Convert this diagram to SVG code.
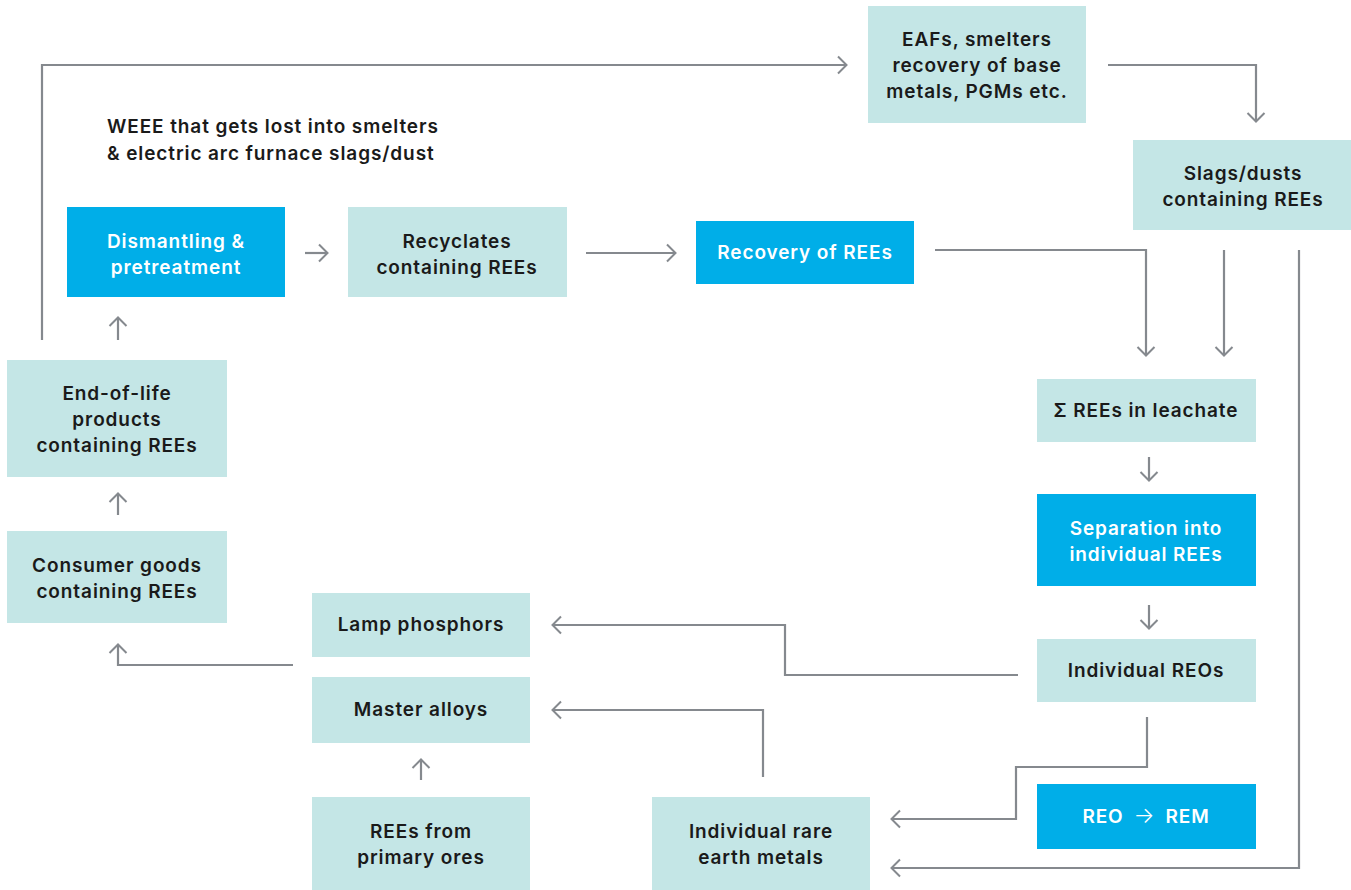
<svg xmlns="http://www.w3.org/2000/svg" width="1351" height="890" viewBox="0 0 1351 890">
<defs>
<marker id="ah" viewBox="0 0 20 20" refX="18" refY="10" markerWidth="20" markerHeight="20" markerUnits="userSpaceOnUse" orient="auto">
<path d="M10,1.5 L18.5,10 L10,18.5" fill="none" stroke="#85898e" stroke-width="2"/>
</marker>
<style>
.lt{fill:#c4e6e6}
.bl{fill:#00aee8}
.t{font-family:Inter,"Liberation Sans",sans-serif;font-weight:600;font-size:19px;letter-spacing:0.9px;fill:#1a1a1a;text-anchor:middle}
.w{fill:#ffffff}
.c{fill:none;stroke:#85898e;stroke-width:2.2}
.thin{font-weight:300;font-size:22px}
</style>
</defs>
<rect width="1351" height="890" fill="#ffffff"/>
<g id="connectors">
<polyline class="c" points="42,340 42,65 846,65" marker-end="url(#ah)"/>
<polyline class="c" points="1108,65 1256,65 1256,121" marker-end="url(#ah)"/>
<line class="c" x1="305" y1="253" x2="327" y2="253" marker-end="url(#ah)"/>
<line class="c" x1="586" y1="253" x2="675" y2="253" marker-end="url(#ah)"/>
<polyline class="c" points="935,250 1146,250 1146,355" marker-end="url(#ah)"/>
<line class="c" x1="1224" y1="250" x2="1224" y2="355" marker-end="url(#ah)"/>
<polyline class="c" points="1299,250 1299,868 892,868" marker-end="url(#ah)"/>
<line class="c" x1="1149" y1="457" x2="1149" y2="480" marker-end="url(#ah)"/>
<line class="c" x1="1149" y1="605" x2="1149" y2="628" marker-end="url(#ah)"/>
<polyline class="c" points="1018,675 785,675 785,625 553,625" marker-end="url(#ah)"/>
<polyline class="c" points="763,777 763,710 553,710" marker-end="url(#ah)"/>
<polyline class="c" points="1147,717 1147,767 1016,767 1016,819 892,819" marker-end="url(#ah)"/>
<line class="c" x1="421" y1="780" x2="421" y2="760" marker-end="url(#ah)"/>
<polyline class="c" points="293,665 118,665 118,645" marker-end="url(#ah)"/>
<line class="c" x1="118" y1="340" x2="118" y2="318" marker-end="url(#ah)"/>
<line class="c" x1="118" y1="515" x2="118" y2="494" marker-end="url(#ah)"/>
</g>
<g id="weee-label">
<text class="t" style="text-anchor:start" x="107" y="133">WEEE that gets lost into smelters</text>
<text class="t" style="text-anchor:start" x="107" y="160">&amp; electric arc furnace slags/dust</text>
</g>
<g id="eafs">
<rect class="lt" x="868" y="6" width="218" height="117"/>
<text class="t" x="977" y="46">EAFs, smelters</text>
<text class="t" x="977" y="72">recovery of base</text>
<text class="t" x="977" y="98">metals, PGMs etc.</text>
</g>
<g id="slags">
<rect class="lt" x="1133" y="140" width="218" height="90"/>
<text class="t" x="1243" y="180">Slags/dusts</text>
<text class="t" x="1243" y="206">containing REEs</text>
</g>
<g id="dismantling">
<rect class="bl" x="67" y="207" width="218" height="90"/>
<text class="t w" x="176" y="248">Dismantling &amp;</text>
<text class="t w" x="176" y="274">pretreatment</text>
</g>
<g id="recyclates">
<rect class="lt" x="348" y="207" width="219" height="90"/>
<text class="t" x="457" y="248">Recyclates</text>
<text class="t" x="457" y="274">containing REEs</text>
</g>
<g id="recovery">
<rect class="bl" x="696" y="221" width="218" height="63"/>
<text class="t w" x="805" y="259">Recovery of REEs</text>
</g>
<g id="endoflife">
<rect class="lt" x="7" y="360" width="220" height="117"/>
<text class="t" x="117" y="400">End-of-life</text>
<text class="t" x="117" y="426">products</text>
<text class="t" x="117" y="452">containing REEs</text>
</g>
<g id="consumer">
<rect class="lt" x="7" y="531" width="220" height="92"/>
<text class="t" x="117" y="572">Consumer goods</text>
<text class="t" x="117" y="598">containing REEs</text>
</g>
<g id="leachate">
<rect class="lt" x="1037" y="379" width="219" height="63"/>
<text class="t" x="1146" y="417">Σ REEs in leachate</text>
</g>
<g id="separation">
<rect class="bl" x="1037" y="494" width="219" height="92"/>
<text class="t w" x="1146" y="535">Separation into</text>
<text class="t w" x="1146" y="561">individual REEs</text>
</g>
<g id="reos">
<rect class="lt" x="1037" y="639" width="219" height="63"/>
<text class="t" x="1146" y="677">Individual REOs</text>
</g>
<g id="reo-rem">
<rect class="bl" x="1037" y="784" width="219" height="65"/>
<text class="t w" x="1146" y="823">REO<tspan class="thin" dx="10">→</tspan><tspan dx="10">REM</tspan></text>
</g>
<g id="lamp">
<rect class="lt" x="312" y="593" width="218" height="64"/>
<text class="t" x="421" y="631">Lamp phosphors</text>
</g>
<g id="master">
<rect class="lt" x="312" y="677" width="218" height="66"/>
<text class="t" x="421" y="716">Master alloys</text>
</g>
<g id="primary">
<rect class="lt" x="312" y="797" width="218" height="93"/>
<text class="t" x="421" y="838">REEs from</text>
<text class="t" x="421" y="864">primary ores</text>
</g>
<g id="metals">
<rect class="lt" x="652" y="797" width="218" height="93"/>
<text class="t" x="761" y="838">Individual rare</text>
<text class="t" x="761" y="864">earth metals</text>
</g>
</svg>
